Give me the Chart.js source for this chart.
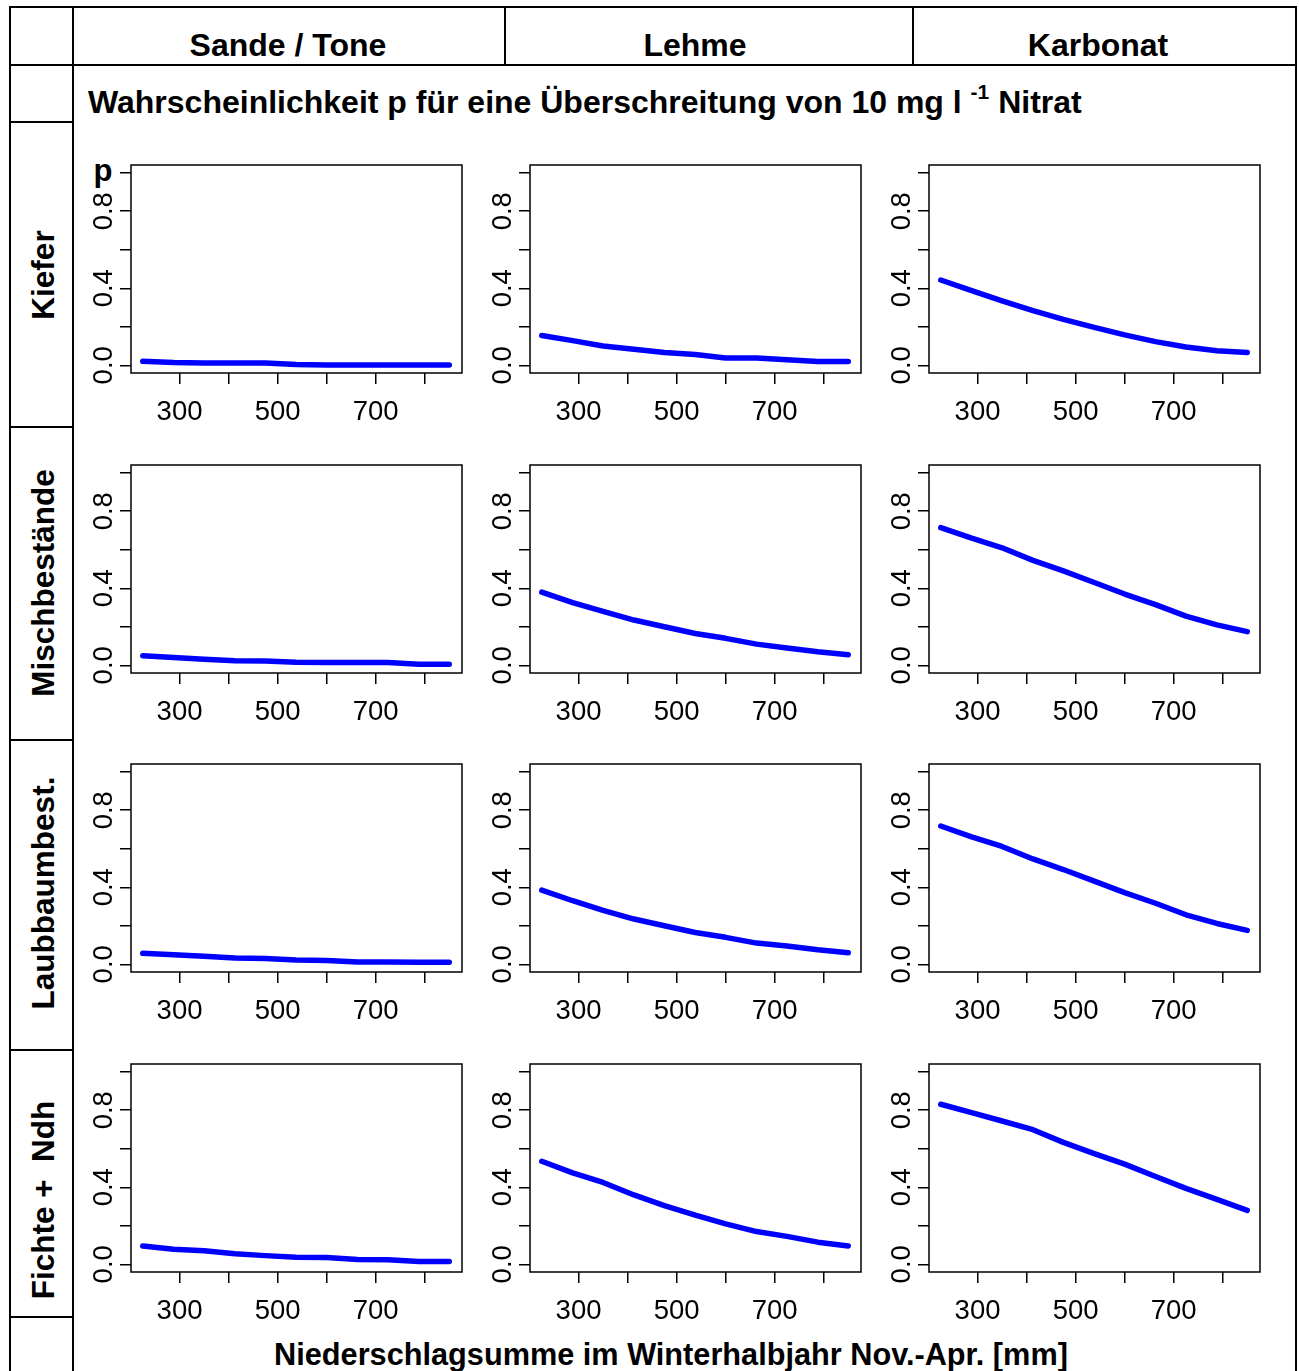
<!DOCTYPE html>
<html>
<head>
<meta charset="utf-8">
<script src="https://cdn.jsdelivr.net/npm/chart.js@4.4.0/dist/chart.umd.min.js"></script>
<style>
  body { margin: 0; background: #fff; }
  #page { position: relative; width: 1299px; height: 1371px; overflow: hidden;
          font-family: "Liberation Sans", Arial, sans-serif; color: #000; }
  .ln { position: absolute; background: #000; }
  .txt { position: absolute; font-weight: bold; white-space: pre; line-height: 1; }
  canvas { position: absolute; }
</style>
</head>
<body>
<div id="page"></div>
<script>
// column / row headings
const soils = ['Sande / Tone', 'Lehme', 'Karbonat'];
const stands = ['Kiefer', 'Mischbestände', 'Laubbaumbest.', 'Fichte +  Ndh'];

// precipitation (x) and tick values
const precip = [225, 288, 350, 413, 475, 538, 600, 663, 725, 788, 850];
const xTicks = [300, 400, 500, 600, 700, 800];
const xTickLabels = [300, 500, 700];
const yTicks = [0, 0.2, 0.4, 0.6, 0.8, 1.0];
const yTickLabels = [0, 0.4, 0.8];

// probability p, one array per panel
const kieferSande      = [0.021, 0.014, 0.012, 0.012, 0.012, 0.004, 0.002, 0.002, 0.002, 0.002, 0.002];
const kieferLehme      = [0.155, 0.128, 0.100, 0.083, 0.066, 0.056, 0.038, 0.038, 0.029, 0.020, 0.020];
const kieferKarbonat   = [0.443, 0.388, 0.335, 0.284, 0.238, 0.197, 0.158, 0.123, 0.095, 0.076, 0.066];
const mischSande       = [0.050, 0.040, 0.032, 0.024, 0.022, 0.016, 0.015, 0.015, 0.014, 0.005, 0.005];
const mischLehme       = [0.380, 0.325, 0.280, 0.235, 0.200, 0.165, 0.140, 0.110, 0.090, 0.070, 0.055];
const mischKarbonat    = [0.715, 0.660, 0.610, 0.545, 0.490, 0.430, 0.370, 0.315, 0.255, 0.210, 0.175];
const laubSande        = [0.057, 0.050, 0.042, 0.033, 0.030, 0.022, 0.020, 0.012, 0.012, 0.011, 0.011];
const laubLehme        = [0.385, 0.330, 0.280, 0.235, 0.200, 0.165, 0.140, 0.110, 0.095, 0.075, 0.060];
const laubKarbonat     = [0.718, 0.662, 0.612, 0.547, 0.492, 0.432, 0.372, 0.317, 0.257, 0.212, 0.176];
const fichteSande      = [0.095, 0.078, 0.070, 0.055, 0.045, 0.037, 0.035, 0.025, 0.024, 0.015, 0.014];
const fichteLehme      = [0.535, 0.475, 0.425, 0.360, 0.305, 0.255, 0.210, 0.170, 0.145, 0.115, 0.095];
const fichteKarbonat   = [0.831, 0.788, 0.744, 0.699, 0.633, 0.575, 0.520, 0.456, 0.394, 0.337, 0.280];

const panels = [
  [kieferSande, kieferLehme, kieferKarbonat],
  [mischSande, mischLehme, mischKarbonat],
  [laubSande, laubLehme, laubKarbonat],
  [fichteSande, fichteLehme, fichteKarbonat]
];

const page = document.getElementById('page');
const FONT = '"Liberation Sans", Arial, sans-serif';

function line(x, y, w, h) {
  const d = document.createElement('div');
  d.className = 'ln';
  d.style.left = x + 'px'; d.style.top = y + 'px';
  d.style.width = w + 'px'; d.style.height = h + 'px';
  page.appendChild(d);
}

function text(str, x, y, size, rot, anchor) {
  const d = document.createElement('div');
  d.className = 'txt';
  d.innerHTML = str;
  d.style.fontSize = size + 'px';
  d.style.left = x + 'px'; d.style.top = y + 'px';
  const tr = anchor === 'left' ? 'translate(0,-50%)' : 'translate(-50%,-50%)';
  d.style.transform = tr + (rot ? ' rotate(' + rot + 'deg)' : '');
  page.appendChild(d);
}

// table frame
line(9, 6, 1288, 2);
line(9, 6, 2, 1365);
line(1295, 6, 2, 1365);
line(72, 6, 2, 1365);
line(9, 64, 1288, 2);
line(504, 6, 2, 60);
line(912, 6, 2, 60);
[121, 426, 739, 1049, 1316].forEach(y => line(9, y, 64, 2));

// headings
text(soils[0], 288, 45, 32);
text(soils[1], 695, 45, 32);
text(soils[2], 1098, 45, 32);
text('Wahrscheinlichkeit p für eine Überschreitung von 10 mg l <span style="font-size:21px;position:relative;top:-14px">-1</span> Nitrat', 88, 102, 32, 0, 'left');
text('Niederschlagsumme im Winterhalbjahr Nov.-Apr. [mm]', 671, 1355, 30.7);
const rowCenters = [275, 583, 893, 1200];
stands.forEach((s, i) => text(s, 44, rowCenters[i], 31.5, -90));
text('p', 103, 170, 31);

// frame around each plot region
const boxPlugin = {
  id: 'box',
  afterDraw(chart) {
    const { ctx, chartArea: a } = chart;
    ctx.save();
    ctx.strokeStyle = '#000';
    ctx.lineWidth = 1.5;
    ctx.strokeRect(a.left, a.top, a.right - a.left, a.bottom - a.top);
    ctx.restore();
  }
};

const tickFont = { family: FONT, size: 27.5 };

function panel(row, col, values) {
  const left = 131 + col * 399;
  const top = Math.round(165 + row * 299.7);
  const cv = document.createElement('canvas');
  cv.width = 397; cv.height = 268;
  cv.style.width = '397px'; cv.style.height = '268px';
  cv.style.left = (left - 58) + 'px';
  cv.style.top = (top - 10) + 'px';
  page.appendChild(cv);

  new Chart(cv, {
    type: 'line',
    data: {
      datasets: [{
        data: precip.map((x, i) => ({ x: x, y: values[i] })),
        borderColor: '#0000ff',
        borderWidth: 5.5,
        borderCapStyle: 'round',
        borderJoinStyle: 'round',
        pointRadius: 0,
        tension: 0,
        fill: false
      }]
    },
    options: {
      responsive: false,
      animation: false,
      events: [],
      layout: { padding: { top: 10, right: 8, left: 0, bottom: 0 } },
      plugins: { legend: { display: false }, tooltip: { enabled: false } },
      scales: {
        x: {
          type: 'linear', min: 201, max: 876,
          afterBuildTicks: s => { s.ticks = xTicks.map(v => ({ value: v })); },
          afterFit: s => { s.height = 50; s.paddingLeft = 0; s.paddingRight = 0; },
          ticks: {
            autoSkip: false, minRotation: 0, maxRotation: 0, padding: 12,
            color: '#000', font: tickFont,
            callback: v => xTickLabels.includes(v) ? String(v) : ''
          },
          grid: { drawOnChartArea: false, tickLength: 11, color: '#000', lineWidth: 1.5 },
          border: { display: false }
        },
        y: {
          type: 'linear', min: -0.04, max: 1.04,
          afterBuildTicks: s => { s.ticks = yTicks.map(v => ({ value: v })); },
          afterFit: s => { s.width = 58; s.paddingTop = 0; s.paddingBottom = 0; },
          ticks: {
            autoSkip: false, minRotation: 90, maxRotation: 90, crossAlign: 'center', padding: -4,
            color: '#000', font: tickFont,
            callback: v => yTickLabels.includes(v) ? v.toFixed(1) : ''
          },
          grid: { drawOnChartArea: false, tickLength: 11, color: '#000', lineWidth: 1.5 },
          border: { display: false }
        }
      }
    },
    plugins: [boxPlugin]
  });
}

panels.forEach((r, ri) => r.forEach((vals, ci) => panel(ri, ci, vals)));
</script>
</body>
</html>
